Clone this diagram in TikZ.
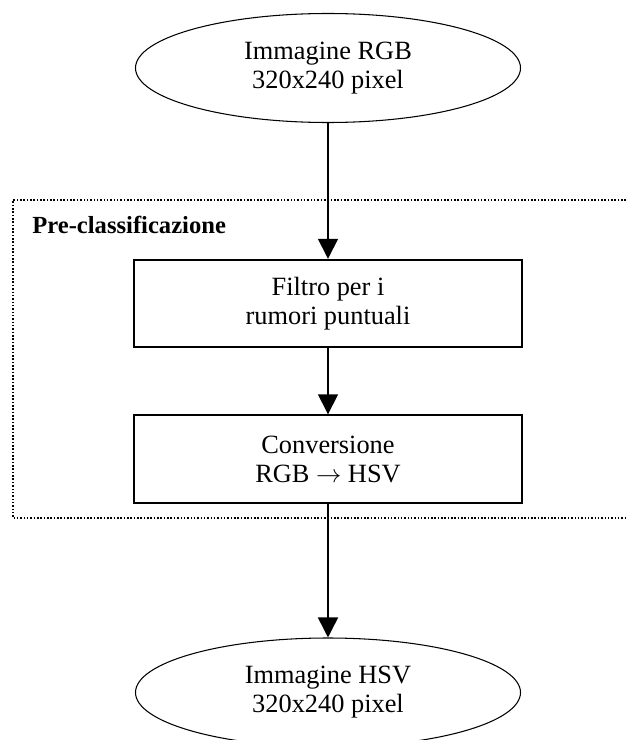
\documentclass[tikz,border=0pt]{standalone}
\usepackage{fontspec}
\setmainfont{Liberation Serif}
\usetikzlibrary{shapes.geometric, arrows.meta}

\begin{document}
\begin{tikzpicture}[x=0.2mm, y=-0.2mm,
  >={Triangle[length=4mm, width=4mm]},
  font=\fontsize{15}{16.5}\selectfont,
  terminal/.style={draw, ellipse, line width=0.6pt, minimum width=7.7cm,
    minimum height=2.18cm, align=center},
  process/.style={draw, rectangle, line width=1.1pt, minimum width=7.76cm,
    minimum height=1.75cm, align=center},
  flow/.style={->, line width=0.9pt}]
  \useasboundingbox (0,0) rectangle (626,740);
  % Pre-classificazione frame (right side runs off the page)
  \draw[densely dotted, line width=0.9pt] (626,200) -- (13,200) -- (13,518) -- (626,518);
  \node[anchor=base west, inner sep=0, font=\fontsize{14}{16}\selectfont\bfseries]
    (preclass) at (32,233) {Pre-classificazione};
  % input and output images
  \node[terminal] (rgb) at (328,68) {Immagine RGB\\320x240 pixel};
  \node[terminal] (hsv) at (328,692.5) {Immagine HSV\\320x240 pixel};
  % processing steps
  \node[process] (filtro) at (328,303.5) {Filtro per i\\rumori puntuali};
  \node[process] (conv) at (328,459) {Conversione\\RGB $\rightarrow$ HSV};
  % connections
  \draw[flow] (rgb) -- (filtro);
  \draw[flow] (filtro) -- (conv);
  \draw[flow] (conv) -- (hsv);
\end{tikzpicture}
\end{document}
